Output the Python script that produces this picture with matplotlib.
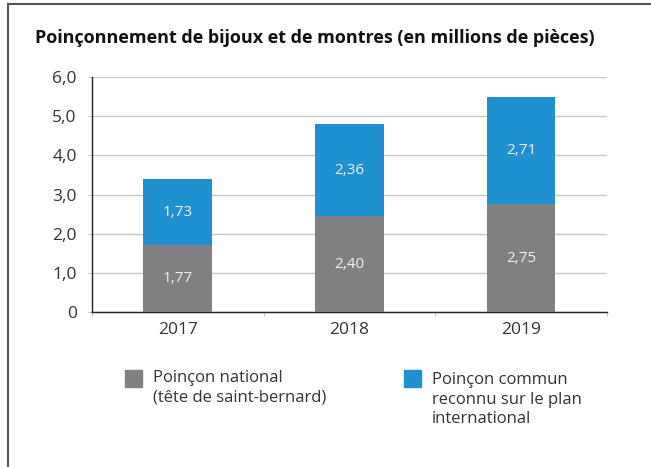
import matplotlib.pyplot as plt
from matplotlib.patches import Rectangle
from matplotlib.lines import Line2D

plt.rcParams['font.family'] = ['Open Sans', 'DejaVu Sans']

years = ['2017', '2018', '2019']
# bar heights as drawn in the picture
national = [1.70, 2.44, 2.75]
commun = [1.70, 2.35, 2.73]
# printed values
national_labels = ['1,77', '2,40', '2,75']
commun_labels = ['1,73', '2,36', '2,71']
y_ticks = [0, 1, 2, 3, 4, 5, 6]
y_labels = ['0', '1,0', '2,0', '3,0', '4,0', '5,0', '6,0']
series_names = ['Poinçon national\n(tête de saint-bernard)',
                'Poinçon commun\nreconnu sur le plan\ninternational']

grey = '#808083'
blue = '#1f90d0'
text_col = '#333333'

fig = plt.figure(figsize=(6.51, 4.67), dpi=100)
ax = fig.add_axes([0.1413, 0.3319, 0.7911, 0.5032])

x = range(len(years))
width = 0.40
ax.bar(x, national, width, color=grey, zorder=3)
ax.bar(x, commun, width, bottom=national, color=blue, zorder=3)

for i in x:
    ax.text(i, national[i] / 2, national_labels[i],
            ha='center', va='center', color='#f0f0f0', fontsize=11, zorder=4)
    ax.text(i, national[i] + commun[i] / 2, commun_labels[i],
            ha='center', va='center', color='#f0f0f0', fontsize=11, zorder=4)

ax.set_xlim(-0.5, 2.5)
ax.set_ylim(0, 6)
ax.set_yticks(y_ticks)
ax.set_yticklabels(y_labels)
ax.set_xticks(list(x))
ax.set_xticklabels(years)
ax.set_xticks([-0.5, 0.5, 1.5, 2.5], minor=True)
ax.tick_params(axis='x', which='major', length=0, pad=7, labelsize=12.5, labelcolor=text_col)
ax.tick_params(axis='x', which='minor', length=3, color='#c8c8c8', width=0.8)
ax.tick_params(axis='y', length=3, color='#c8c8c8', width=0.8, pad=8,
               labelsize=12.5, labelcolor=text_col)
ax.grid(axis='y', color='#c8c8c8', linewidth=1.0, zorder=0)
for side in ['top', 'right']:
    ax.spines[side].set_visible(False)
ax.spines['left'].set_color('#222222')
ax.spines['bottom'].set_color('#222222')
ax.spines['left'].set_linewidth(1.0)
ax.spines['bottom'].set_linewidth(1.0)

fig.text(0.0538, 0.918, 'Poinçonnement de bijoux et de montres (en millions de pièces)',
         fontsize=13, fontweight='bold', color='#111111', ha='left', va='center')

# legend
W, H = 651, 467
for (px, py, ty, col, label) in [(125, 370, 370, grey, series_names[0]),
                                 (404, 370, 372, blue, series_names[1])]:
    fig.patches.append(Rectangle((px / W, 1 - (py + 17) / H), 17 / W, 17 / H,
                                 transform=fig.transFigure, color=col))
    fig.text((px + 28) / W, 1 - ty / H, label, fontsize=12, color=text_col,
             ha='left', va='top', linespacing=1.3)

# frame
fig.lines.append(Line2D([8 / W, 1], [1 - 4 / H, 1 - 4 / H], transform=fig.transFigure,
                        color='#555555', linewidth=1.5))
fig.lines.append(Line2D([8 / W, 8 / W], [0, 1 - 4 / H], transform=fig.transFigure,
                        color='#555555', linewidth=1.5))

plt.savefig('out.png', dpi=100)
